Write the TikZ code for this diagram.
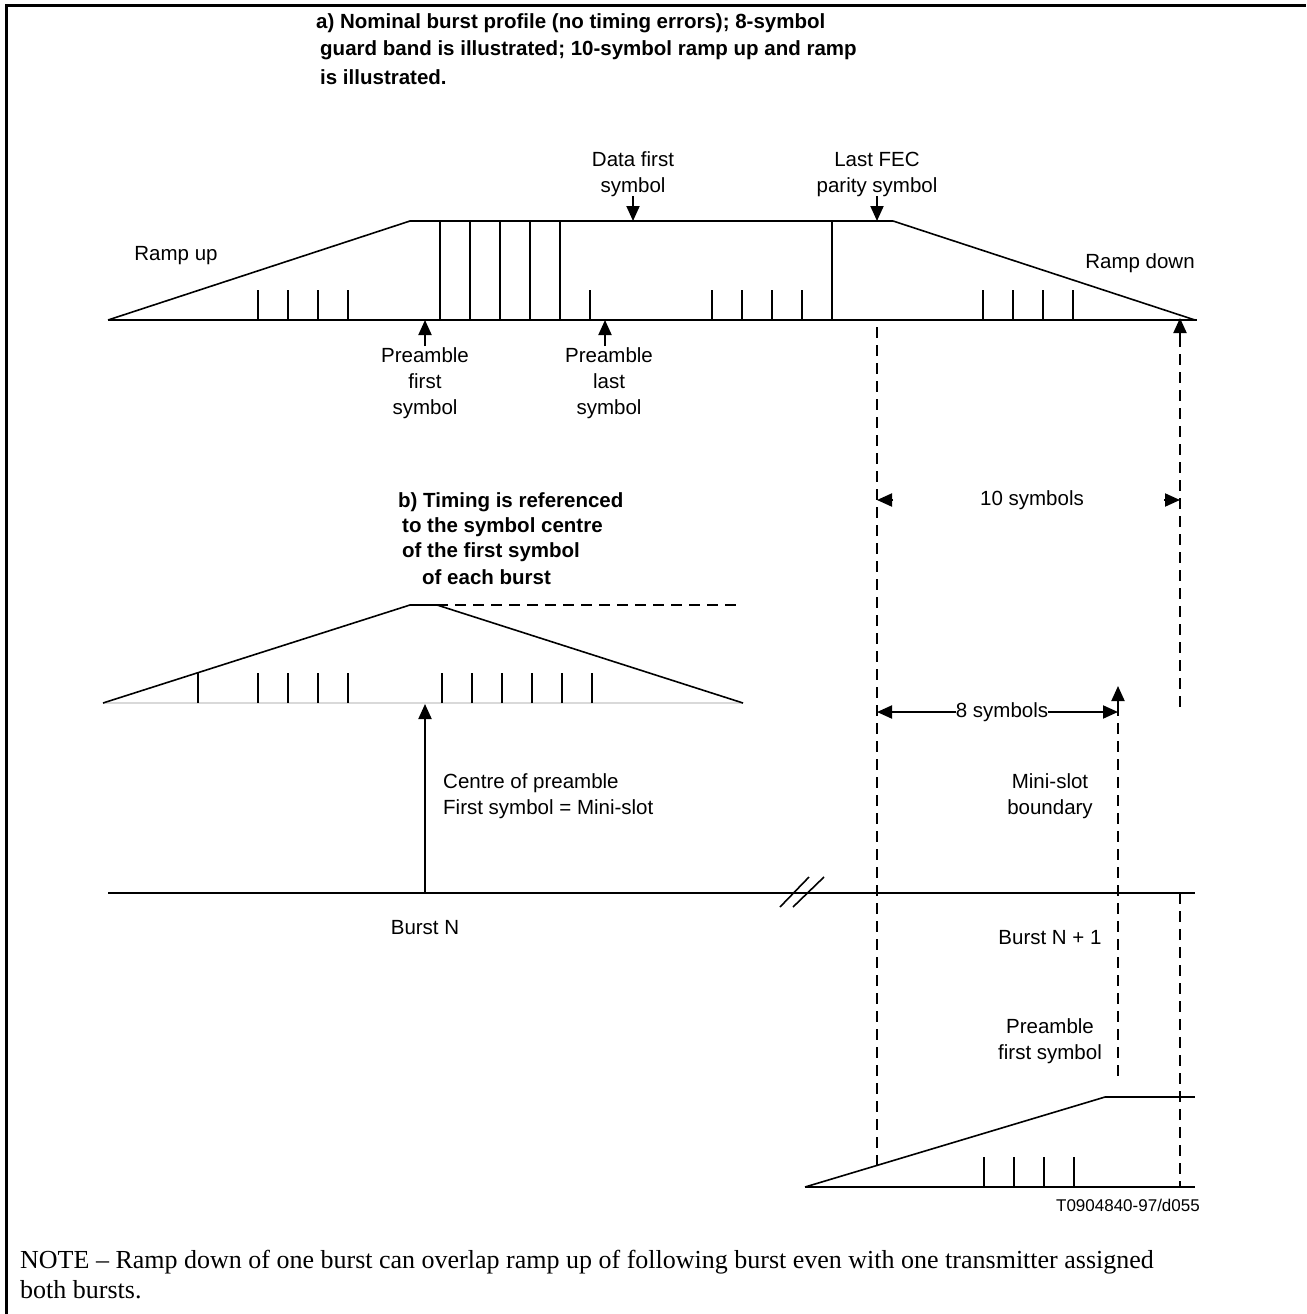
\documentclass[tikz,border=0pt]{standalone}
\usepackage{fontspec}
\setmainfont{Liberation Sans}
\newfontfamily\notefont{Liberation Serif}
\usetikzlibrary{arrows.meta}
\begin{document}
\begin{tikzpicture}[x=1pt,y=-1pt,
  lbl/.style={font=\fontsize{20.5}{26}\selectfont, align=center, inner sep=0pt},
  lblw/.style={font=\fontsize{20.5}{26}\selectfont, align=left, inner sep=0pt, anchor=west},
  boldw/.style={font=\bfseries\fontsize{20.5}{25}\selectfont, inner sep=0pt, anchor=west},
  notew/.style={font=\notefont\fontsize{26}{28}\selectfont, inner sep=0pt, anchor=west},
  ln/.style={line width=2pt},
  thinln/.style={line width=1.6pt},
  dsh/.style={line width=2pt, dash pattern=on 11pt off 7pt},
  tri/.style={-{Triangle[length=15pt,width=13pt]}},
  dtri/.style={{Triangle[length=15pt,width=13pt]}-{Triangle[length=15pt,width=13pt]}},
]
\useasboundingbox (0,0) rectangle (1306,1314);
% frame
\draw[line width=3pt] (6,1314) -- (6,6) -- (1306,6);

% ---------- titles ----------
\node[boldw] (ta1) at (316,23) {a) Nominal burst profile (no timing errors); 8-symbol};
\node[boldw] (ta2) at (320,50) {guard band is illustrated; 10-symbol ramp up and ramp};
\node[boldw] (ta3) at (320,77) {is illustrated.};

% ---------- burst a ----------
\coordinate (a0) at (108,320);
\coordinate (a1) at (410,221);
\coordinate (a2) at (893,221);
\coordinate (a3) at (1195,320);
\draw[ln] (a0) -- (1197,320);
\draw[thinln] (a0) -- (a1);
\draw[ln] (a1) -- (a2);
\draw[thinln] (a2) -- (a3);
\foreach \x in {258,288,318,348,590,712,742,772,802,983,1013,1043,1073}
  \draw[ln] (\x,320) -- (\x,290);
\foreach \x in {440,470,500,530,560,832}
  \draw[ln] (\x,320) -- (\x,221);

\node[lbl] (rup) at (176,256) {Ramp up};
\node[lbl] (rdown) at (1140,263) {Ramp down};
\node[lbl] (dfs) at (633,174) {Data first\\symbol};
\node[lbl] (lfec) at (877,174) {Last FEC\\parity symbol};
\draw[ln,tri] (633,196) -- (633,221);
\draw[ln,tri] (877,196) -- (877,221);
\node[lbl] (pfs) at (425,383) {Preamble\\first\\symbol};
\node[lbl] (pls) at (609,383) {Preamble\\last\\symbol};
\draw[ln,tri] (425,346) -- (425,320);
\draw[ln,tri] (605,346) -- (605,320);

% ---------- dimension lines ----------
\draw[dsh] (877,327) -- (877,1165);
\draw[dsh] (1180,336) -- (1180,710);
\draw[ln,tri] (1180,338) -- (1180,318);
\draw[ln,tri] (893,500) -- (877,500);
\draw[ln,tri] (1164,500) -- (1180,500);
\node[lbl] (ten) at (1032,500) {10 symbols};
\draw[ln,dtri] (877,712) -- (1118,712);
\node[lbl,fill=white] (eight) at (1002,712) {8 symbols};
\draw[ln,tri] (1118,705) -- (1118,686);
\draw[dsh] (1118,705) -- (1118,1082);
\node[lbl] (msb) at (1050,796) {Mini-slot\\boundary};

% ---------- burst b ----------
\node[boldw] (tb1) at (398,502) {b) Timing is referenced};
\node[boldw] (tb2) at (402,527) {to the symbol centre};
\node[boldw] (tb3) at (402,552) {of the first symbol};
\node[boldw] (tb4) at (422,577) {of each burst};
\coordinate (b0) at (103,703);
\coordinate (b1) at (410,605);
\coordinate (b2) at (437,605);
\coordinate (b3) at (743,703);
\draw[line width=2pt, black!15] (b0) -- (b3);
\draw[thinln] (b0) -- (b1);
\draw[ln] (b1) -- (b2);
\draw[thinln] (b2) -- (b3);
\draw[dsh] (b2) -- (743,605);
\draw[ln] (198,703) -- (198,673);
\foreach \x in {258,288,318,348,442,472,502,532,562,592}
  \draw[ln] (\x,703) -- (\x,673);

% ---------- burst N line ----------
\draw[ln] (108,893) -- (1195,893);
\draw[thinln] (780,907) -- (809,877);
\draw[thinln] (793,907) -- (824,877);
\draw[ln,tri] (425,893) -- (425,704);
\node[lblw] (cop) at (443,796) {Centre of preamble\\First symbol = Mini-slot};
\node[lbl] (bn) at (425,928) {Burst N};
\node[lbl] (bn1) at (1050,938) {Burst N + 1};
\node[lbl] (pfs2) at (1050,1041) {Preamble\\first symbol};

% ---------- burst N+1 ----------
\draw[dsh] (1180,893) -- (1180,1187);
\coordinate (c0) at (805,1187);
\coordinate (c1) at (1105,1097);
\draw[ln] (c0) -- (1195,1187);
\draw[thinln] (c0) -- (c1);
\draw[ln] (c1) -- (1195,1097);
\foreach \x in {984,1014,1044,1074}
  \draw[ln] (\x,1187) -- (\x,1157);

\node[font=\fontsize{17}{19}\selectfont, inner sep=0pt, anchor=east] (ref) at (1200,1205) {T0904840-97/d055};

% ---------- note ----------
\node[notew] (n1) at (20,1262) {NOTE \textendash{} Ramp down of one burst can overlap ramp up of following burst even with one transmitter assigned};
\node[notew] (n2) at (20,1290) {both bursts.};
\end{tikzpicture}
\end{document}
